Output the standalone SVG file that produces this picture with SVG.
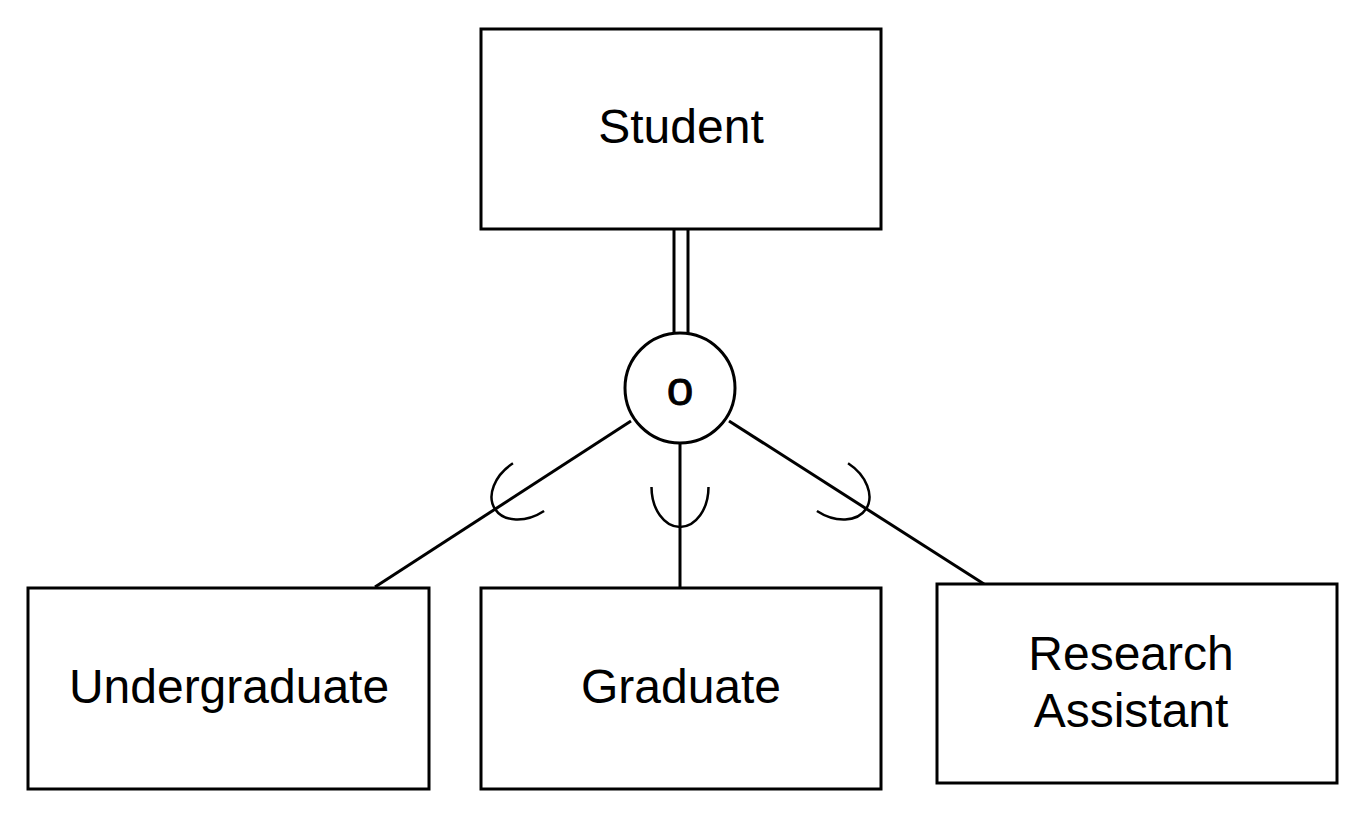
<svg xmlns="http://www.w3.org/2000/svg" width="1364" height="816" viewBox="0 0 1364 816">
<style>
.box{fill:#fff;stroke:#000;stroke-width:3}
.ln{fill:none;stroke:#000;stroke-width:3}
.t{font-family:"Liberation Sans",Arial,sans-serif;font-size:48px;fill:#000;text-anchor:middle}
</style>
<defs>
<path id="sub" d="M-28.5,-40 A28.5,40 0 0 0 28.5,-40" fill="none" stroke="#000" stroke-width="2.5"/>
</defs>
<rect width="1364" height="816" fill="#fff"/>
<g id="connectors">
<line class="ln" x1="674" y1="229" x2="674" y2="335"/>
<line class="ln" x1="688" y1="229" x2="688" y2="335"/>
<line class="ln" x1="631" y1="421" x2="375" y2="587"/>
<line class="ln" x1="680" y1="443" x2="680" y2="588"/>
<line class="ln" x1="729" y1="421" x2="984" y2="584"/>
<use href="#sub" transform="translate(495,509) rotate(56.9)"/>
<use href="#sub" transform="translate(680,527)"/>
<use href="#sub" transform="translate(866,509) rotate(-56.9)"/>
</g>
<g id="student">
<rect class="box" x="481" y="29" width="400" height="200"/>
<text class="t" x="681" y="143">Student</text>
</g>
<g id="disjoint">
<circle cx="680" cy="388" r="55" fill="#fff" stroke="#000" stroke-width="3"/>
<text class="t" x="680" y="405" style="stroke:#000;stroke-width:0.8">o</text>
</g>
<g id="undergraduate">
<rect class="box" x="28" y="588" width="401" height="201"/>
<text class="t" x="229" y="703">Undergraduate</text>
</g>
<g id="graduate">
<rect class="box" x="481" y="588" width="400" height="201"/>
<text class="t" x="681" y="703">Graduate</text>
</g>
<g id="research-assistant">
<rect class="box" x="937" y="584" width="400" height="199"/>
<text class="t" x="1131" y="670">Research</text>
<text class="t" x="1131" y="727">Assistant</text>
</g>
</svg>
